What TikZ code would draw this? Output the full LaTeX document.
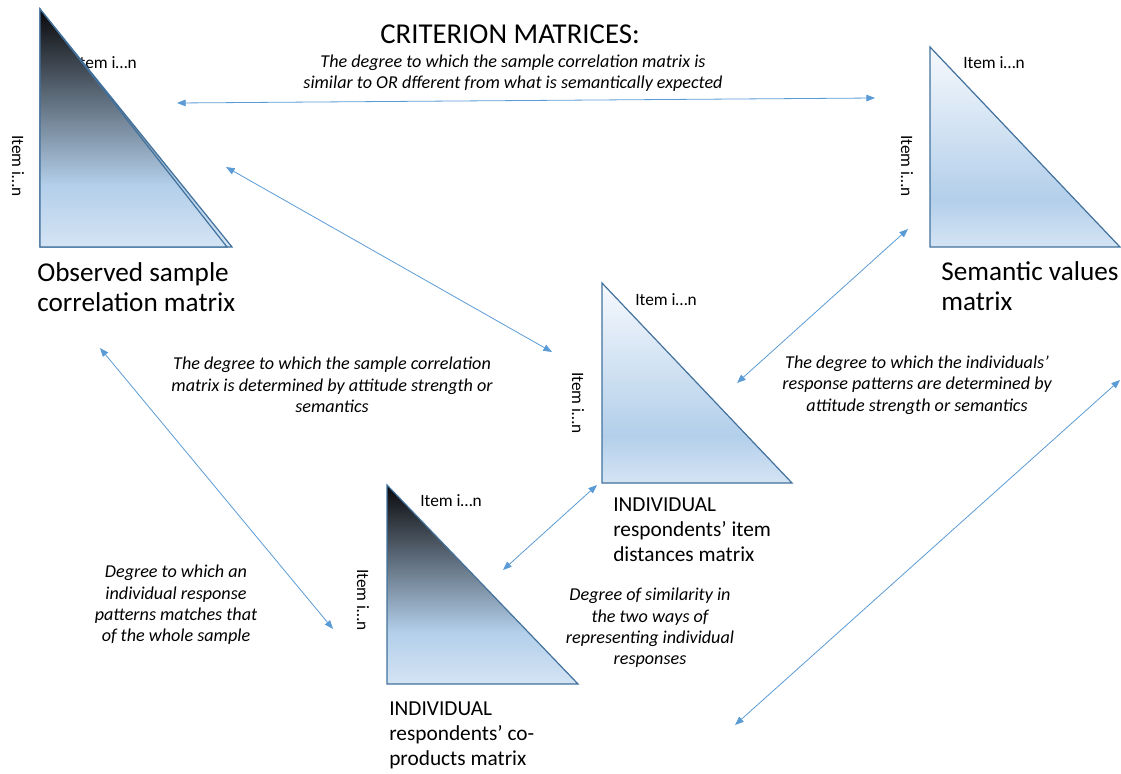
\documentclass[tikz,border=0pt]{standalone}
\usepackage{fontspec}
\setmainfont{Carlito}
\usetikzlibrary{arrows.meta}
\definecolor{triedge}{RGB}{65,113,156}
\definecolor{linkblue}{RGB}{91,155,213}
\definecolor{tritop}{RGB}{246,249,253}
\definecolor{trimid}{RGB}{179,207,234}
\definecolor{tribot}{RGB}{212,228,244}
\definecolor{darktop}{RGB}{8,8,10}
\pgfdeclareverticalshading{paleshade}{100bp}{color(0bp)=(tribot); color(25bp)=(tribot); color(37bp)=(trimid); color(75bp)=(tritop); color(100bp)=(tritop)}
\pgfdeclareverticalshading{darkshade}{100bp}{color(0bp)=(tribot); color(25bp)=(tribot); color(38bp)=(trimid); color(75bp)=(darktop); color(100bp)=(darktop)}
\def\matrixtri[#1](#2,#3)(#4:#5){\draw[#1] (#2,#3) -- (#2,#3+#5) -- (#2+#4,#3+#5) -- cycle;}

\begin{document}
\begin{tikzpicture}[x=0.75pt,y=-0.75pt,
	tri/.style={draw=triedge,line width=0.9pt},
	link/.style={draw=linkblue,line width=0.6pt,{Triangle[length=6.5pt,width=5pt]}-{Triangle[length=6.5pt,width=5pt]}},
	itemlbl/.style={inner sep=0,font=\fontsize{13}{15}\selectfont},
	note/.style={inner sep=0,align=center,font=\fontsize{13.6}{16}\selectfont\itshape},
	bigcap/.style={inner sep=0,align=left,anchor=north west,font=\fontsize{20.4}{22.5}\selectfont},
	indcap/.style={inner sep=0,align=left,anchor=north west,font=\fontsize{16}{18.5}\selectfont}]
			%%%%% START %%%%%
			\useasboundingbox (0,0) rectangle (1121,774);
			
			% labels under the first triangle
			\node[itemlbl] (obstop) at (106,63) {Item i…n};
			\node[itemlbl,rotate=-90] (obsside) at (18,166) {Item i…n};
			\matrixtri[tri,shading=darkshade](40,9)(192:238)
			\matrixtri[tri,shading=darkshade](40,9)(187:238)
			\node[bigcap] (obscap) at (37,262) {Observed sample\\correlation matrix};
			
			\matrixtri[tri,shading=paleshade](930,47)(190:200)
			\node[itemlbl] (semtop) at (994,63) {Item i…n};
			\node[itemlbl,rotate=-90] (semside) at (907,166) {Item i…n};
			\node[bigcap] (semcap) at (941,261) {Semantic values\\matrix};
			
			\matrixtri[tri,shading=paleshade](602,283)(190:200)
			\node[itemlbl] (distop) at (666,300) {Item i…n};
			\node[itemlbl,rotate=-90] (disside) at (578,403) {Item i…n};
			\node[indcap] (discap) at (613,498) {INDIVIDUAL\\respondents’ item\\distances matrix};
			
			\matrixtri[tri,shading=darkshade](387,485)(191:199)
			\node[itemlbl] (coptop) at (451,501) {Item i…n};
			\node[itemlbl,rotate=-90] (copside) at (363,600) {Item i…n};
			\node[indcap] (copcap) at (389,702) {INDIVIDUAL\\respondents’ co-\\products matrix};
			
			% texts
			\node[inner sep=0,font=\fontsize{21.6}{24}\selectfont] (crit) at (510,34) {CRITERION MATRICES:};
			\node[note] (critnote) at (513,73) {The degree to which the sample correlation matrix is\\similar to OR dfferent from what is semantically expected};
			\node[note] (corrnote) at (332,385) {The degree to which the sample correlation\\matrix is determined by attitude strength or\\semantics};
			\node[note] (indnote) at (917,385) {The degree to which the individuals’\\response patterns are determined by\\attitude strength or semantics};
			\node[note] (wholenote) at (176,605) {Degree to which an\\individual response\\patterns matches that\\of the whole sample};
			\node[note] (waysnote) at (650,628) {Degree of similarity in\\the two ways of\\representing individual\\responses};
			
			% arrow ends
			\coordinate (obsA) at (177,103);
			\coordinate (semA) at (875,98);
			\coordinate (obsB) at (226,167);
			\coordinate (disB) at (552,352);
			\coordinate (semC) at (908,229);
			\coordinate (disC) at (737,383);
			\coordinate (obsD) at (100,348);
			\coordinate (copD) at (333,629);
			\coordinate (disE) at (597,485);
			\coordinate (copE) at (503,570);
			\coordinate (farF) at (1120,380);
			\coordinate (lowF) at (735,725);
			
			\draw[link] (obsA) -- (semA);
			\draw[link] (obsB) -- (disB);
			\draw[link] (semC) -- (disC);
			\draw[link] (obsD) -- (copD);
			\draw[link] (disE) -- (copE);
			\draw[link] (farF) -- (lowF);
			%%%%% END %%%%%
\end{tikzpicture}
\end{document}
